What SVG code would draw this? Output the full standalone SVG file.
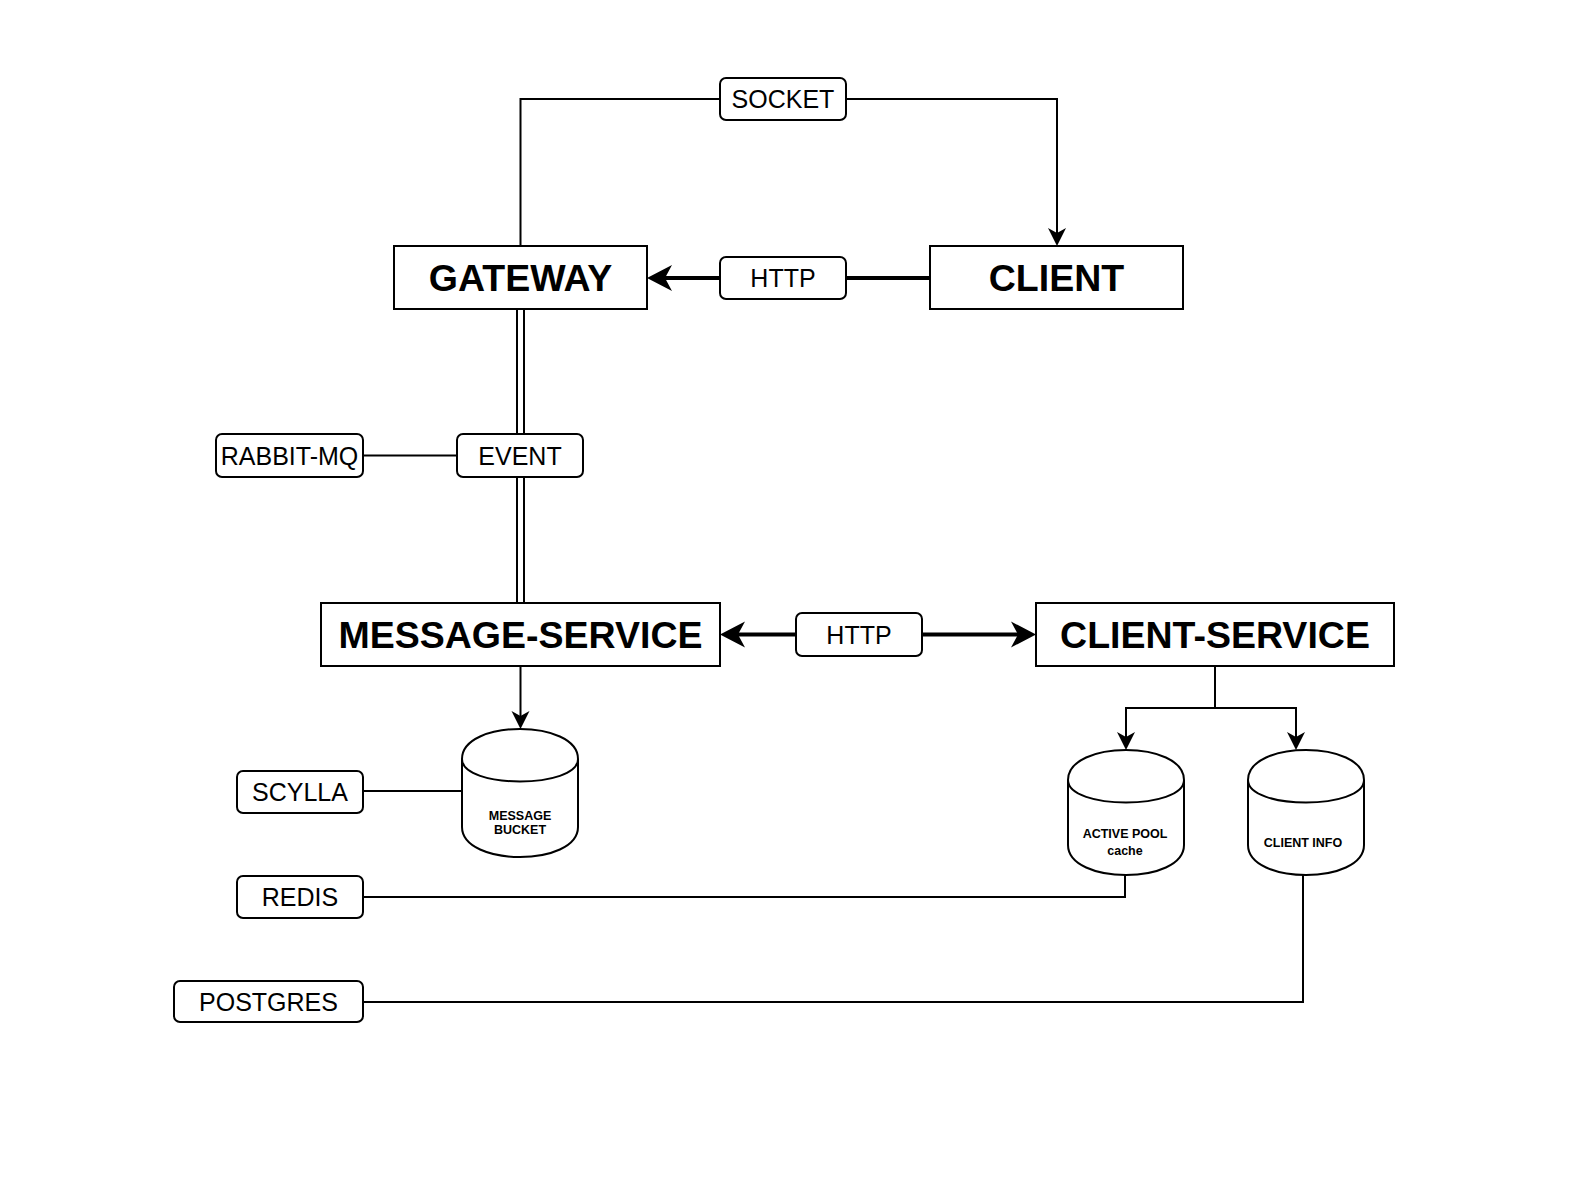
<svg xmlns="http://www.w3.org/2000/svg" width="1594" height="1203" viewBox="0 0 1594 1203">
<style>
.box{fill:#fff;stroke:#000;stroke-width:2}
.lbl{fill:#fff;stroke:#000;stroke-width:2}
.big{font-family:"Liberation Sans",Arial,sans-serif;font-weight:bold;font-size:37.5px;text-anchor:middle;fill:#000}
.t{font-family:"Liberation Sans",Arial,sans-serif;font-size:25px;text-anchor:middle;fill:#000}
.s{font-family:"Liberation Sans",Arial,sans-serif;font-weight:bold;font-size:12.5px;text-anchor:middle;fill:#000}
.ln{fill:none;stroke:#000;stroke-width:2}
.thick{fill:none;stroke:#000;stroke-width:4}
</style>
<defs>
<marker id="big" markerUnits="userSpaceOnUse" markerWidth="30" markerHeight="30" viewBox="0 -15 30 30" refX="7" refY="0" orient="auto-start-reverse">
<path d="M0,-13 L25,0 L0,13 L7,0 Z" fill="#000"/>
</marker>
<marker id="small" markerUnits="userSpaceOnUse" markerWidth="22" markerHeight="22" viewBox="0 -11 22 22" refX="5" refY="0" orient="auto">
<path d="M0,-9 L18,0 L0,9 L5,0 Z" fill="#000"/>
</marker>
</defs>
<rect width="1594" height="1203" fill="#fff"/>
<g id="connectors">
<path class="ln" d="M520.5,246 V99 H1057 V233" marker-end="url(#small)"/>
<path class="thick" d="M930,278 H665" marker-end="url(#big)"/>
<path d="M520.5,309 V603" fill="none" stroke="#000" stroke-width="9"/>
<path d="M520.5,309 V603" fill="none" stroke="#fff" stroke-width="5"/>
<path class="ln" d="M363,455.5 H457"/>
<path class="thick" d="M738,634.5 H1018" marker-start="url(#big)" marker-end="url(#big)"/>
<path class="ln" d="M520.5,666 V716" marker-end="url(#small)"/>
<path class="ln" d="M1215,666 V708 H1126 V737" marker-end="url(#small)"/>
<path class="ln" d="M1215,708 H1296 V737" marker-end="url(#small)"/>
<path class="ln" d="M363,791 H462"/>
<path class="ln" d="M363,897 H1125 V874"/>
<path class="ln" d="M363,1002 H1303 V874"/>
</g>
<g id="gateway"><rect class="box" x="394" y="246" width="253" height="63"/><text class="big" x="520.5" y="291">GATEWAY</text></g>
<g id="client"><rect class="box" x="930" y="246" width="253" height="63"/><text class="big" x="1056.5" y="291">CLIENT</text></g>
<g id="socket-label"><rect class="lbl" x="720" y="78" width="126" height="42" rx="6"/><text class="t" x="783" y="107.5">SOCKET</text></g>
<g id="http-top-label"><rect class="lbl" x="720" y="257" width="126" height="42" rx="6"/><text class="t" x="783" y="287">HTTP</text></g>
<g id="event-label"><rect class="lbl" x="457" y="434" width="126" height="43" rx="6"/><text class="t" x="520" y="464.5">EVENT</text></g>
<g id="rabbit-mq"><rect class="lbl" x="216" y="434" width="147" height="43" rx="6"/><text class="t" x="289.5" y="464.5">RABBIT-MQ</text></g>
<g id="message-service"><rect class="box" x="321" y="603" width="399" height="63"/><text class="big" x="520.5" y="648">MESSAGE-SERVICE</text></g>
<g id="client-service"><rect class="box" x="1036" y="603" width="358" height="63"/><text class="big" x="1215" y="648">CLIENT-SERVICE</text></g>
<g id="http-mid-label"><rect class="lbl" x="796" y="613" width="126" height="43" rx="6"/><text class="t" x="859" y="643.5">HTTP</text></g>
<g id="message-bucket">
<path class="box" d="M462,759 C462,719 578,719 578,759 L578,827 C578,867 462,867 462,827 Z"/>
<path class="ln" d="M462,759 C462,789 578,789 578,759"/>
<text class="s" x="520" y="820">MESSAGE</text><text class="s" x="520" y="834">BUCKET</text>
</g>
<g id="active-pool">
<path class="box" d="M1068,780 C1068,740 1184,740 1184,780 L1184,845 C1184,885 1068,885 1068,845 Z"/>
<path class="ln" d="M1068,780 C1068,810 1184,810 1184,780"/>
<text class="s" x="1125" y="838">ACTIVE POOL</text><text class="s" x="1125" y="855">cache</text>
</g>
<g id="client-info">
<path class="box" d="M1248,780 C1248,740 1364,740 1364,780 L1364,845 C1364,885 1248,885 1248,845 Z"/>
<path class="ln" d="M1248,780 C1248,810 1364,810 1364,780"/>
<text class="s" x="1303" y="847">CLIENT INFO</text>
</g>
<g id="scylla"><rect class="lbl" x="237" y="771" width="126" height="42" rx="6"/><text class="t" x="300" y="800.5">SCYLLA</text></g>
<g id="redis"><rect class="lbl" x="237" y="876" width="126" height="42" rx="6"/><text class="t" x="300" y="905.5">REDIS</text></g>
<g id="postgres"><rect class="lbl" x="174" y="981" width="189" height="41" rx="6"/><text class="t" x="268.5" y="1010.5">POSTGRES</text></g>
</svg>
